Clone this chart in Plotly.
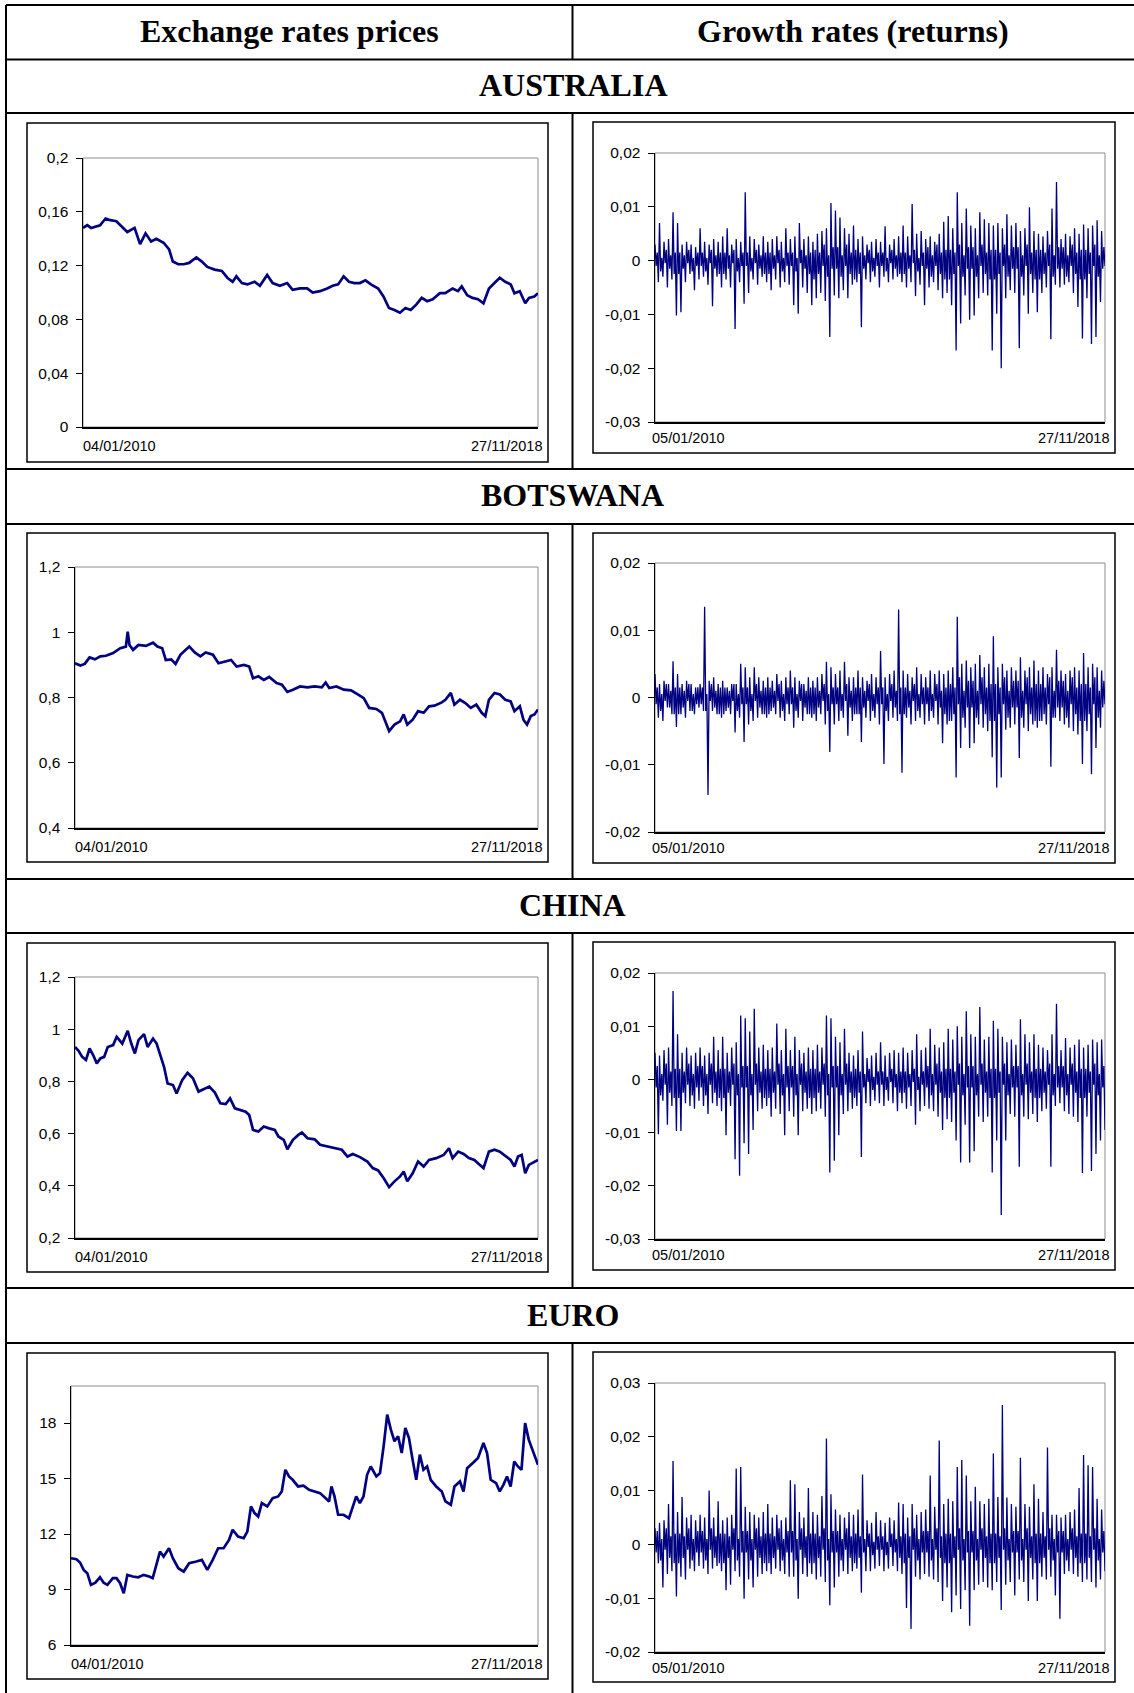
import plotly.graph_objects as go

# ------------------------------------------------------------------ data
# Prices: trading-day index (0 = 04/01/2010, 2320 = 27/11/2018) and value
aus_price_day = [0, 22, 41, 63, 87, 115, 133, 170, 198, 226, 263, 291, 319, 347, 374, 411, 439, 458, 486, 513,
                 541, 578, 606, 634, 671, 708, 736, 763, 782, 810, 838, 875, 902, 939, 967, 1004, 1041, 1069, 1106, 1143,
                 1171, 1208, 1245, 1273, 1301, 1329, 1356, 1384, 1412, 1440, 1468, 1505, 1532, 1560, 1588, 1616, 1644, 1671, 1699, 1727,
                 1755, 1783, 1820, 1847, 1885, 1912, 1931, 1959, 1986, 2014, 2042, 2070, 2098, 2125, 2153, 2181, 2200, 2227, 2255, 2274,
                 2301, 2320]
aus_price = [0.148, 0.150, 0.148, 0.149, 0.150, 0.155, 0.154, 0.153, 0.149, 0.145,
             0.148, 0.136, 0.144, 0.138, 0.140, 0.137, 0.132, 0.123, 0.121, 0.121,
             0.122, 0.126, 0.123, 0.119, 0.117, 0.116, 0.111, 0.108, 0.112, 0.107,
             0.106, 0.108, 0.105, 0.113, 0.107, 0.105, 0.107, 0.102, 0.103, 0.103,
             0.100, 0.101, 0.103, 0.105, 0.106, 0.112, 0.108, 0.107, 0.107, 0.109,
             0.106, 0.103, 0.097, 0.0885, 0.087, 0.085, 0.0885, 0.087, 0.091, 0.096,
             0.0935, 0.095, 0.0995, 0.0995, 0.103, 0.101, 0.1045, 0.098, 0.096, 0.095,
             0.092, 0.103, 0.107, 0.111, 0.108, 0.106, 0.0995, 0.101, 0.092, 0.096,
             0.097, 0.0995]

bwp_price_day = [0, 27, 49, 73, 100, 127, 155, 191, 227, 255, 264, 273, 291, 318, 355, 391, 413, 437, 455, 482,
                 504, 528, 555, 573, 600, 628, 655, 691, 719, 755, 782, 810, 846, 873, 892, 919, 946, 973, 1010, 1037,
                 1064, 1092, 1128, 1165, 1201, 1237, 1256, 1274, 1310, 1347, 1383, 1419, 1447, 1474, 1510, 1538, 1556, 1574, 1601, 1629,
                 1647, 1665, 1692, 1719, 1747, 1774, 1801, 1838, 1856, 1883, 1901, 1929, 1956, 1983, 2011, 2038, 2056, 2074, 2102, 2129,
                 2156, 2183, 2202, 2229, 2247, 2265, 2284, 2302, 2320]
bwp_price = [0.905, 0.898, 0.903, 0.923, 0.917, 0.926, 0.928, 0.936, 0.951, 0.956,
             1.002, 0.961, 0.946, 0.961, 0.958, 0.968, 0.956, 0.951, 0.915, 0.917,
             0.903, 0.931, 0.946, 0.956, 0.938, 0.926, 0.938, 0.931, 0.905, 0.910,
             0.915, 0.895, 0.900, 0.895, 0.859, 0.865, 0.854, 0.863, 0.844, 0.839,
             0.817, 0.824, 0.834, 0.831, 0.834, 0.831, 0.846, 0.829, 0.834, 0.824,
             0.822, 0.809, 0.798, 0.768, 0.765, 0.753, 0.722, 0.697, 0.717, 0.727,
             0.748, 0.717, 0.732, 0.758, 0.753, 0.773, 0.775, 0.785, 0.793, 0.814,
             0.778, 0.793, 0.783, 0.768, 0.778, 0.753, 0.743, 0.793, 0.814, 0.809,
             0.793, 0.788, 0.758, 0.773, 0.732, 0.717, 0.743, 0.748, 0.763]

cny_price_day = [0, 18, 36, 55, 73, 91, 109, 127, 146, 164, 191, 209, 237, 264, 282, 300, 318, 346, 364, 391,
                 409, 428, 446, 464, 491, 509, 537, 564, 591, 619, 646, 673, 701, 728, 755, 777, 801, 828, 855, 873,
                 892, 919, 946, 973, 1001, 1019, 1046, 1064, 1092, 1119, 1137, 1165, 1201, 1228, 1265, 1301, 1337, 1365, 1392, 1428,
                 1465, 1492, 1519, 1547, 1574, 1601, 1629, 1647, 1665, 1692, 1719, 1747, 1774, 1810, 1847, 1874, 1892, 1920, 1947, 1974,
                 2001, 2029, 2047, 2074, 2102, 2129, 2156, 2183, 2202, 2220, 2238, 2256, 2274, 2293, 2320]
cny_price = [0.932, 0.917, 0.894, 0.882, 0.926, 0.901, 0.869, 0.888, 0.894, 0.932,
             0.939, 0.971, 0.945, 0.994, 0.945, 0.907, 0.958, 0.981, 0.932, 0.964,
             0.945, 0.901, 0.856, 0.792, 0.786, 0.754, 0.805, 0.833, 0.812, 0.761,
             0.770, 0.780, 0.757, 0.716, 0.713, 0.735, 0.697, 0.690, 0.684, 0.671,
             0.614, 0.608, 0.627, 0.620, 0.614, 0.589, 0.576, 0.540, 0.576, 0.595,
             0.604, 0.582, 0.578, 0.557, 0.550, 0.544, 0.538, 0.512, 0.522, 0.510,
             0.493, 0.468, 0.459, 0.429, 0.395, 0.417, 0.436, 0.455, 0.417, 0.448,
             0.493, 0.474, 0.499, 0.506, 0.518, 0.544, 0.506, 0.531, 0.522, 0.506,
             0.499, 0.480, 0.468, 0.531, 0.538, 0.531, 0.515, 0.499, 0.474, 0.512,
             0.518, 0.448, 0.480, 0.487, 0.499]

eur_price_day = [0, 27, 45, 63, 81, 99, 121, 144, 162, 181, 208, 226, 244, 262, 280, 307, 334, 361, 388, 406,
                 424, 442, 460, 487, 506, 533, 560, 587, 623, 650, 677, 704, 731, 758, 785, 803, 830, 858, 876, 894,
                 912, 930, 948, 975, 1002, 1029, 1047, 1065, 1083, 1101, 1128, 1155, 1183, 1210, 1237, 1264, 1282, 1294, 1309, 1327,
                 1354, 1381, 1399, 1417, 1435, 1453, 1471, 1489, 1517, 1535, 1553, 1571, 1589, 1607, 1625, 1643, 1661, 1679, 1697, 1715,
                 1733, 1751, 1769, 1787, 1814, 1842, 1860, 1887, 1905, 1932, 1950, 1968, 1995, 2022, 2049, 2067, 2085, 2112, 2130, 2148,
                 2166, 2184, 2202, 2220, 2238, 2256, 2274, 2292, 2320]
eur_price = [10.69, 10.64, 10.46, 10.06, 9.88, 9.25, 9.37, 9.66, 9.37, 9.25,
             9.61, 9.61, 9.34, 8.80, 9.79, 9.70, 9.66, 9.79, 9.70, 9.61,
             10.33, 11.05, 10.78, 11.23, 10.69, 10.15, 9.97, 10.42, 10.51, 10.60,
             10.06, 10.60, 11.23, 11.23, 11.68, 12.23, 11.86, 11.77, 12.13, 13.49,
             13.13, 12.95, 13.67, 13.49, 13.94, 14.03, 14.30, 15.47, 15.11, 14.93,
             14.57, 14.61, 14.39, 14.30, 14.21, 13.94, 13.76, 14.57, 14.03, 13.04,
             13.04, 12.86, 13.40, 14.03, 13.67, 14.03, 15.20, 15.65, 15.11, 15.29,
             16.74, 18.45, 17.64, 17.01, 17.28, 16.38, 17.73, 17.19, 16.02, 14.93,
             16.29, 15.47, 15.65, 14.93, 14.57, 14.30, 13.76, 13.58, 14.57, 14.84,
             14.30, 15.56, 15.83, 16.11, 16.92, 16.38, 14.93, 14.75, 14.30, 14.66,
             15.11, 14.57, 15.92, 15.65, 15.47, 18.00, 17.10, 16.56, 15.74]

# Returns: successive highs / lows of the dense return band, read left to right
aus_returns = [
    0.0030, -0.0010, 0.0015, -0.0040, 0.0070, -0.0020, 0.0005, -0.0030, 0.0035, -0.0005, 0.0020, -0.0050, 0.0040, -0.0015, 0.0010, -0.0035, 0.0090, -0.0025, 0.0015, -0.0102,
    0.0070, -0.0025, 0.0015, -0.0096, 0.0030, -0.0015, 0.0010, -0.0040, 0.0035, -0.0005, 0.0020, -0.0025, 0.0030, -0.0020, 0.0005, -0.0055, 0.0025, -0.0010, 0.0015, -0.0035,
    0.0060, -0.0010, 0.0015, -0.0030, 0.0035, -0.0020, 0.0005, -0.0045, 0.0030, -0.0005, 0.0020, -0.0085, 0.0040, -0.0015, 0.0010, -0.0030, 0.0035, -0.0025, 0.0015, -0.0050,
    0.0045, -0.0025, 0.0015, -0.0035, 0.0060, -0.0015, 0.0010, -0.0050, 0.0030, -0.0005, 0.0020, -0.0127, 0.0040, -0.0020, 0.0005, -0.0040, 0.0035, -0.0010, 0.0015, -0.0080,
    0.0127, -0.0010, 0.0015, -0.0060, 0.0045, -0.0020, 0.0005, -0.0035, 0.0040, -0.0005, 0.0020, -0.0045, 0.0030, -0.0015, 0.0010, -0.0030, 0.0045, -0.0025, 0.0015, -0.0040,
    0.0035, -0.0025, 0.0015, -0.0055, 0.0040, -0.0015, 0.0010, -0.0035, 0.0045, -0.0005, 0.0020, -0.0050, 0.0035, -0.0020, 0.0005, -0.0040, 0.0060, -0.0010, 0.0015, -0.0045,
    0.0040, -0.0010, 0.0015, -0.0083, 0.0045, -0.0020, 0.0005, -0.0099, 0.0070, -0.0005, 0.0020, -0.0050, 0.0040, -0.0015, 0.0010, -0.0060, 0.0045, -0.0025, 0.0015, -0.0083,
    0.0035, -0.0035, 0.0020, -0.0070, 0.0050, -0.0025, 0.0015, -0.0060, 0.0055, -0.0010, 0.0030, -0.0075, 0.0060, -0.0030, 0.0010, -0.0142, 0.0107, -0.0015, 0.0025, -0.0065,
    0.0093, -0.0015, 0.0025, -0.0070, 0.0080, -0.0030, 0.0010, -0.0055, 0.0060, -0.0010, 0.0030, -0.0070, 0.0050, -0.0025, 0.0015, -0.0045, 0.0065, -0.0035, 0.0020, -0.0040,
    0.0040, -0.0025, 0.0015, -0.0124, 0.0045, -0.0015, 0.0010, -0.0035, 0.0030, -0.0005, 0.0020, -0.0040, 0.0035, -0.0020, 0.0005, -0.0030, 0.0040, -0.0010, 0.0015, -0.0050,
    0.0035, -0.0010, 0.0015, -0.0030, 0.0064, -0.0020, 0.0005, -0.0040, 0.0030, -0.0005, 0.0020, -0.0035, 0.0040, -0.0015, 0.0010, -0.0030, 0.0045, -0.0025, 0.0015, -0.0040,
    0.0065, -0.0025, 0.0015, -0.0050, 0.0045, -0.0015, 0.0010, -0.0040, 0.0105, -0.0005, 0.0020, -0.0066, 0.0050, -0.0020, 0.0005, -0.0045, 0.0055, -0.0010, 0.0015, -0.0083,
    0.0040, -0.0015, 0.0025, -0.0050, 0.0045, -0.0030, 0.0010, -0.0040, 0.0035, -0.0010, 0.0030, -0.0055, 0.0050, -0.0025, 0.0015, -0.0070, 0.0072, -0.0035, 0.0020, -0.0060,
    0.0083, -0.0035, 0.0020, -0.0083, 0.0060, -0.0025, 0.0015, -0.0167, 0.0127, -0.0010, 0.0030, -0.0117, 0.0070, -0.0030, 0.0010, -0.0065, 0.0097, -0.0015, 0.0025, -0.0110,
    0.0065, -0.0015, 0.0025, -0.0102, 0.0060, -0.0030, 0.0010, -0.0070, 0.0090, -0.0010, 0.0030, -0.0060, 0.0077, -0.0025, 0.0015, -0.0065, 0.0070, -0.0035, 0.0020, -0.0167,
    0.0065, -0.0035, 0.0020, -0.0099, 0.0070, -0.0025, 0.0015, -0.0200, 0.0060, -0.0010, 0.0030, -0.0070, 0.0086, -0.0030, 0.0010, -0.0055, 0.0065, -0.0015, 0.0025, -0.0060,
    0.0070, -0.0015, 0.0025, -0.0163, 0.0055, -0.0030, 0.0010, -0.0065, 0.0060, -0.0010, 0.0030, -0.0099, 0.0099, -0.0025, 0.0015, -0.0060, 0.0055, -0.0035, 0.0020, -0.0096,
    0.0050, -0.0035, 0.0020, -0.0060, 0.0045, -0.0025, 0.0015, -0.0050, 0.0055, -0.0010, 0.0030, -0.0146, 0.0097, -0.0030, 0.0010, -0.0045, 0.0146, -0.0015, 0.0025, -0.0050,
    0.0040, -0.0015, 0.0025, -0.0045, 0.0050, -0.0030, 0.0010, -0.0040, 0.0045, -0.0010, 0.0030, -0.0060, 0.0060, -0.0025, 0.0015, -0.0086, 0.0050, -0.0035, 0.0020, -0.0145,
    0.0067, -0.0035, 0.0020, -0.0070, 0.0060, -0.0025, 0.0015, -0.0155, 0.0065, -0.0010, 0.0030, -0.0142, 0.0075, -0.0030, 0.0010, -0.0077, 0.0055, -0.0015, 0.0025, -0.0010]

bwp_returns = [
    0.0035, -0.0010, 0.0015, -0.0030, 0.0020, -0.0020, 0.0005, -0.0035, 0.0025, -0.0005, 0.0020, -0.0015, 0.0020, -0.0015, 0.0010, -0.0025, 0.0054, -0.0025, 0.0015, -0.0044,
    0.0035, -0.0025, 0.0015, -0.0025, 0.0020, -0.0015, 0.0010, -0.0030, 0.0025, -0.0005, 0.0020, -0.0020, 0.0020, -0.0020, 0.0005, -0.0025, 0.0015, -0.0010, 0.0015, -0.0015,
    0.0020, -0.0010, 0.0015, -0.0020, 0.0135, -0.0020, 0.0005, -0.0145, 0.0025, -0.0005, 0.0020, -0.0020, 0.0030, -0.0015, 0.0010, -0.0025, 0.0020, -0.0025, 0.0015, -0.0030,
    0.0025, -0.0025, 0.0015, -0.0020, 0.0015, -0.0015, 0.0010, -0.0025, 0.0020, -0.0005, 0.0020, -0.0052, 0.0020, -0.0020, 0.0005, -0.0030, 0.0050, -0.0010, 0.0015, -0.0066,
    0.0045, -0.0010, 0.0015, -0.0040, 0.0030, -0.0020, 0.0005, -0.0035, 0.0045, -0.0005, 0.0020, -0.0030, 0.0030, -0.0015, 0.0010, -0.0025, 0.0025, -0.0025, 0.0015, -0.0030,
    0.0030, -0.0025, 0.0015, -0.0020, 0.0025, -0.0015, 0.0010, -0.0025, 0.0035, -0.0005, 0.0020, -0.0030, 0.0025, -0.0020, 0.0005, -0.0035, 0.0030, -0.0010, 0.0015, -0.0025,
    0.0040, -0.0010, 0.0015, -0.0045, 0.0030, -0.0020, 0.0005, -0.0030, 0.0025, -0.0005, 0.0020, -0.0035, 0.0020, -0.0015, 0.0010, -0.0025, 0.0030, -0.0025, 0.0015, -0.0030,
    0.0025, -0.0025, 0.0015, -0.0035, 0.0030, -0.0015, 0.0010, -0.0025, 0.0035, -0.0005, 0.0020, -0.0040, 0.0053, -0.0020, 0.0005, -0.0081, 0.0045, -0.0010, 0.0015, -0.0040,
    0.0035, -0.0010, 0.0015, -0.0035, 0.0040, -0.0020, 0.0005, -0.0030, 0.0053, -0.0005, 0.0020, -0.0057, 0.0030, -0.0015, 0.0010, -0.0035, 0.0030, -0.0025, 0.0015, -0.0025,
    0.0040, -0.0025, 0.0015, -0.0066, 0.0030, -0.0015, 0.0010, -0.0030, 0.0025, -0.0005, 0.0020, -0.0035, 0.0035, -0.0020, 0.0005, -0.0030, 0.0030, -0.0010, 0.0015, -0.0040,
    0.0069, -0.0010, 0.0015, -0.0099, 0.0030, -0.0020, 0.0005, -0.0035, 0.0035, -0.0005, 0.0020, -0.0030, 0.0040, -0.0015, 0.0010, -0.0035, 0.0131, -0.0025, 0.0015, -0.0112,
    0.0040, -0.0025, 0.0015, -0.0030, 0.0035, -0.0015, 0.0010, -0.0040, 0.0030, -0.0005, 0.0020, -0.0035, 0.0045, -0.0020, 0.0005, -0.0030, 0.0035, -0.0010, 0.0015, -0.0040,
    0.0030, -0.0010, 0.0015, -0.0035, 0.0040, -0.0020, 0.0005, -0.0030, 0.0035, -0.0005, 0.0020, -0.0040, 0.0040, -0.0015, 0.0010, -0.0068, 0.0035, -0.0025, 0.0015, -0.0040,
    0.0040, -0.0035, 0.0020, -0.0035, 0.0045, -0.0025, 0.0015, -0.0119, 0.0120, -0.0010, 0.0030, -0.0075, 0.0050, -0.0030, 0.0010, -0.0045, 0.0055, -0.0015, 0.0025, -0.0075,
    0.0045, -0.0015, 0.0025, -0.0068, 0.0050, -0.0030, 0.0010, -0.0040, 0.0063, -0.0010, 0.0030, -0.0045, 0.0045, -0.0025, 0.0015, -0.0050, 0.0050, -0.0035, 0.0020, -0.0089,
    0.0091, -0.0035, 0.0020, -0.0134, 0.0045, -0.0025, 0.0015, -0.0119, 0.0050, -0.0010, 0.0030, -0.0048, 0.0040, -0.0030, 0.0010, -0.0045, 0.0045, -0.0015, 0.0025, -0.0040,
    0.0040, -0.0015, 0.0025, -0.0090, 0.0060, -0.0030, 0.0010, -0.0045, 0.0040, -0.0010, 0.0030, -0.0050, 0.0045, -0.0025, 0.0015, -0.0040, 0.0055, -0.0035, 0.0020, -0.0045,
    0.0040, -0.0035, 0.0020, -0.0035, 0.0045, -0.0025, 0.0015, -0.0040, 0.0035, -0.0010, 0.0030, -0.0103, 0.0045, -0.0030, 0.0010, -0.0030, 0.0071, -0.0015, 0.0025, -0.0035,
    0.0040, -0.0015, 0.0025, -0.0040, 0.0035, -0.0030, 0.0010, -0.0045, 0.0040, -0.0010, 0.0030, -0.0050, 0.0045, -0.0025, 0.0015, -0.0055, 0.0040, -0.0035, 0.0020, -0.0099,
    0.0066, -0.0035, 0.0020, -0.0050, 0.0045, -0.0025, 0.0015, -0.0114, 0.0050, -0.0010, 0.0030, -0.0075, 0.0045, -0.0030, 0.0010, -0.0045, 0.0040, -0.0015, 0.0025, -0.0010]

cny_returns = [
    0.0050, -0.0015, 0.0025, -0.0103, 0.0045, -0.0030, 0.0010, -0.0040, 0.0055, -0.0010, 0.0030, -0.0085, 0.0060, -0.0025, 0.0015, -0.0050, 0.0166, -0.0035, 0.0020, -0.0097,
    0.0085, -0.0035, 0.0020, -0.0097, 0.0050, -0.0025, 0.0015, -0.0045, 0.0060, -0.0010, 0.0030, -0.0050, 0.0045, -0.0030, 0.0010, -0.0055, 0.0050, -0.0015, 0.0025, -0.0040,
    0.0060, -0.0015, 0.0025, -0.0050, 0.0045, -0.0030, 0.0010, -0.0065, 0.0050, -0.0010, 0.0030, -0.0045, 0.0080, -0.0025, 0.0015, -0.0050, 0.0055, -0.0035, 0.0020, -0.0060,
    0.0080, -0.0035, 0.0020, -0.0105, 0.0050, -0.0025, 0.0015, -0.0050, 0.0060, -0.0010, 0.0030, -0.0150, 0.0070, -0.0030, 0.0010, -0.0181, 0.0120, -0.0015, 0.0025, -0.0120,
    0.0115, -0.0015, 0.0025, -0.0140, 0.0090, -0.0030, 0.0010, -0.0095, 0.0133, -0.0010, 0.0030, -0.0060, 0.0060, -0.0025, 0.0015, -0.0055, 0.0065, -0.0035, 0.0020, -0.0050,
    0.0055, -0.0035, 0.0020, -0.0070, 0.0060, -0.0025, 0.0015, -0.0055, 0.0105, -0.0010, 0.0030, -0.0065, 0.0055, -0.0030, 0.0010, -0.0105, 0.0095, -0.0015, 0.0025, -0.0060,
    0.0055, -0.0015, 0.0025, -0.0070, 0.0080, -0.0030, 0.0010, -0.0105, 0.0055, -0.0010, 0.0030, -0.0060, 0.0050, -0.0025, 0.0015, -0.0055, 0.0060, -0.0035, 0.0020, -0.0065,
    0.0055, -0.0035, 0.0020, -0.0060, 0.0065, -0.0025, 0.0015, -0.0055, 0.0060, -0.0010, 0.0030, -0.0070, 0.0120, -0.0030, 0.0010, -0.0175, 0.0115, -0.0015, 0.0025, -0.0153,
    0.0080, -0.0015, 0.0025, -0.0105, 0.0070, -0.0030, 0.0010, -0.0065, 0.0095, -0.0010, 0.0030, -0.0060, 0.0050, -0.0025, 0.0015, -0.0055, 0.0045, -0.0035, 0.0020, -0.0050,
    0.0055, -0.0025, 0.0015, -0.0146, 0.0090, -0.0015, 0.0010, -0.0045, 0.0040, -0.0005, 0.0020, -0.0050, 0.0045, -0.0020, 0.0005, -0.0040, 0.0050, -0.0010, 0.0015, -0.0045,
    0.0070, -0.0010, 0.0015, -0.0050, 0.0045, -0.0020, 0.0005, -0.0040, 0.0050, -0.0005, 0.0020, -0.0045, 0.0055, -0.0015, 0.0010, -0.0060, 0.0050, -0.0025, 0.0015, -0.0045,
    0.0060, -0.0025, 0.0015, -0.0055, 0.0050, -0.0015, 0.0010, -0.0050, 0.0055, -0.0005, 0.0020, -0.0085, 0.0085, -0.0020, 0.0005, -0.0060, 0.0055, -0.0010, 0.0015, -0.0050,
    0.0060, -0.0015, 0.0025, -0.0055, 0.0095, -0.0030, 0.0010, -0.0060, 0.0065, -0.0010, 0.0030, -0.0070, 0.0060, -0.0025, 0.0015, -0.0095, 0.0070, -0.0035, 0.0020, -0.0075,
    0.0095, -0.0035, 0.0020, -0.0080, 0.0075, -0.0025, 0.0015, -0.0115, 0.0100, -0.0010, 0.0030, -0.0156, 0.0080, -0.0030, 0.0010, -0.0085, 0.0128, -0.0015, 0.0025, -0.0156,
    0.0085, -0.0015, 0.0025, -0.0135, 0.0080, -0.0030, 0.0010, -0.0070, 0.0136, -0.0010, 0.0030, -0.0080, 0.0075, -0.0025, 0.0015, -0.0070, 0.0080, -0.0035, 0.0020, -0.0175,
    0.0110, -0.0035, 0.0020, -0.0115, 0.0095, -0.0025, 0.0015, -0.0255, 0.0080, -0.0010, 0.0030, -0.0115, 0.0070, -0.0030, 0.0010, -0.0065, 0.0075, -0.0015, 0.0025, -0.0070,
    0.0065, -0.0015, 0.0025, -0.0164, 0.0113, -0.0030, 0.0010, -0.0070, 0.0085, -0.0010, 0.0030, -0.0075, 0.0070, -0.0025, 0.0015, -0.0065, 0.0085, -0.0035, 0.0020, -0.0080,
    0.0065, -0.0035, 0.0020, -0.0060, 0.0060, -0.0025, 0.0015, -0.0055, 0.0055, -0.0010, 0.0030, -0.0164, 0.0085, -0.0030, 0.0010, -0.0050, 0.0142, -0.0015, 0.0025, -0.0045,
    0.0055, -0.0015, 0.0025, -0.0060, 0.0078, -0.0030, 0.0010, -0.0065, 0.0060, -0.0010, 0.0030, -0.0070, 0.0065, -0.0025, 0.0015, -0.0080, 0.0075, -0.0035, 0.0020, -0.0176,
    0.0060, -0.0035, 0.0020, -0.0070, 0.0065, -0.0025, 0.0015, -0.0172, 0.0075, -0.0010, 0.0030, -0.0140, 0.0070, -0.0030, 0.0010, -0.0115, 0.0075, -0.0015, 0.0025, -0.0095]

eur_returns = [
    0.0030, -0.0015, 0.0025, -0.0035, 0.0040, -0.0030, 0.0010, -0.0080, 0.0045, -0.0010, 0.0030, -0.0055, 0.0075, -0.0025, 0.0015, -0.0050, 0.0155, -0.0035, 0.0020, -0.0097,
    0.0060, -0.0035, 0.0020, -0.0060, 0.0088, -0.0025, 0.0015, -0.0065, 0.0050, -0.0010, 0.0030, -0.0045, 0.0055, -0.0030, 0.0010, -0.0050, 0.0045, -0.0015, 0.0025, -0.0040,
    0.0055, -0.0015, 0.0025, -0.0045, 0.0050, -0.0030, 0.0010, -0.0055, 0.0100, -0.0010, 0.0030, -0.0045, 0.0050, -0.0025, 0.0015, -0.0040, 0.0080, -0.0035, 0.0020, -0.0050,
    0.0045, -0.0035, 0.0020, -0.0085, 0.0050, -0.0025, 0.0015, -0.0075, 0.0055, -0.0010, 0.0030, -0.0050, 0.0141, -0.0030, 0.0010, -0.0060, 0.0144, -0.0015, 0.0025, -0.0101,
    0.0070, -0.0015, 0.0025, -0.0065, 0.0060, -0.0030, 0.0010, -0.0080, 0.0055, -0.0010, 0.0030, -0.0060, 0.0050, -0.0025, 0.0015, -0.0055, 0.0060, -0.0035, 0.0020, -0.0050,
    0.0075, -0.0035, 0.0020, -0.0055, 0.0050, -0.0025, 0.0015, -0.0045, 0.0055, -0.0010, 0.0030, -0.0050, 0.0045, -0.0030, 0.0010, -0.0055, 0.0050, -0.0015, 0.0025, -0.0060,
    0.0119, -0.0015, 0.0025, -0.0060, 0.0112, -0.0030, 0.0010, -0.0101, 0.0060, -0.0010, 0.0030, -0.0055, 0.0050, -0.0025, 0.0015, -0.0060, 0.0105, -0.0035, 0.0020, -0.0055,
    0.0060, -0.0035, 0.0020, -0.0065, 0.0055, -0.0025, 0.0015, -0.0060, 0.0090, -0.0010, 0.0030, -0.0070, 0.0197, -0.0030, 0.0010, -0.0113, 0.0093, -0.0015, 0.0025, -0.0080,
    0.0065, -0.0015, 0.0025, -0.0060, 0.0055, -0.0030, 0.0010, -0.0050, 0.0050, -0.0010, 0.0030, -0.0055, 0.0060, -0.0025, 0.0015, -0.0050, 0.0055, -0.0035, 0.0020, -0.0045,
    0.0065, -0.0025, 0.0015, -0.0090, 0.0130, -0.0015, 0.0010, -0.0050, 0.0045, -0.0005, 0.0020, -0.0050, 0.0040, -0.0020, 0.0005, -0.0045, 0.0060, -0.0010, 0.0015, -0.0040,
    0.0045, -0.0010, 0.0015, -0.0050, 0.0040, -0.0020, 0.0005, -0.0045, 0.0050, -0.0005, 0.0020, -0.0040, 0.0045, -0.0015, 0.0010, -0.0050, 0.0078, -0.0025, 0.0015, -0.0055,
    0.0075, -0.0035, 0.0020, -0.0118, 0.0050, -0.0025, 0.0015, -0.0157, 0.0075, -0.0010, 0.0030, -0.0060, 0.0055, -0.0030, 0.0010, -0.0065, 0.0060, -0.0015, 0.0025, -0.0055,
    0.0065, -0.0015, 0.0025, -0.0060, 0.0128, -0.0030, 0.0010, -0.0065, 0.0070, -0.0010, 0.0030, -0.0070, 0.0193, -0.0025, 0.0015, -0.0105, 0.0075, -0.0035, 0.0020, -0.0080,
    0.0085, -0.0035, 0.0020, -0.0126, 0.0080, -0.0025, 0.0015, -0.0095, 0.0144, -0.0010, 0.0030, -0.0120, 0.0157, -0.0030, 0.0010, -0.0085, 0.0128, -0.0015, 0.0025, -0.0151,
    0.0080, -0.0015, 0.0025, -0.0085, 0.0107, -0.0030, 0.0010, -0.0075, 0.0080, -0.0010, 0.0030, -0.0070, 0.0075, -0.0025, 0.0015, -0.0080, 0.0085, -0.0035, 0.0020, -0.0085,
    0.0169, -0.0035, 0.0020, -0.0070, 0.0088, -0.0025, 0.0015, -0.0122, 0.0259, -0.0010, 0.0030, -0.0075, 0.0087, -0.0030, 0.0010, -0.0070, 0.0075, -0.0015, 0.0025, -0.0095,
    0.0070, -0.0015, 0.0025, -0.0065, 0.0161, -0.0030, 0.0010, -0.0070, 0.0075, -0.0010, 0.0030, -0.0105, 0.0070, -0.0025, 0.0015, -0.0065, 0.0112, -0.0035, 0.0020, -0.0105,
    0.0085, -0.0035, 0.0020, -0.0060, 0.0060, -0.0025, 0.0015, -0.0065, 0.0180, -0.0010, 0.0030, -0.0060, 0.0055, -0.0030, 0.0010, -0.0095, 0.0055, -0.0015, 0.0025, -0.0138,
    0.0050, -0.0015, 0.0025, -0.0055, 0.0055, -0.0030, 0.0010, -0.0050, 0.0060, -0.0010, 0.0030, -0.0055, 0.0065, -0.0025, 0.0015, -0.0060, 0.0105, -0.0035, 0.0020, -0.0070,
    0.0166, -0.0035, 0.0020, -0.0065, 0.0147, -0.0025, 0.0015, -0.0070, 0.0144, -0.0010, 0.0030, -0.0080, 0.0085, -0.0030, 0.0010, -0.0065, 0.0065, -0.0015, 0.0025, -0.0050]

countries = ["AUSTRALIA", "BOTSWANA", "CHINA", "EURO"]
column_titles = ["Exchange rates prices", "Growth rates (returns)"]
price_first_date = "04/01/2010"
return_first_date = "05/01/2010"
last_date = "27/11/2018"
n_days = 2320

price_days = [aus_price_day, bwp_price_day, cny_price_day, eur_price_day]
price_values = [aus_price, bwp_price, cny_price, eur_price]
return_values = [aus_returns, bwp_returns, cny_returns, eur_returns]

price_ranges = [[0, 0.2], [0.4, 1.2], [0.2, 1.2], [6, 20]]
price_tickvals = [[0, 0.04, 0.08, 0.12, 0.16, 0.2], [0.4, 0.6, 0.8, 1, 1.2],
                  [0.2, 0.4, 0.6, 0.8, 1, 1.2], [6, 9, 12, 15, 18]]
price_ticktext = [["0", "0,04", "0,08", "0,12", "0,16", "0,2"], ["0,4", "0,6", "0,8", "1", "1,2"],
                  ["0,2", "0,4", "0,6", "0,8", "1", "1,2"], ["6", "9", "12", "15", "18"]]
return_ranges = [[-0.03, 0.02], [-0.02, 0.02], [-0.03, 0.02], [-0.02, 0.03]]
return_tickvals = [[-0.03, -0.02, -0.01, 0, 0.01, 0.02], [-0.02, -0.01, 0, 0.01, 0.02],
                   [-0.03, -0.02, -0.01, 0, 0.01, 0.02], [-0.02, -0.01, 0, 0.01, 0.02, 0.03]]
return_ticktext = [["-0,03", "-0,02", "-0,01", "0", "0,01", "0,02"], ["-0,02", "-0,01", "0", "0,01", "0,02"],
                   ["-0,03", "-0,02", "-0,01", "0", "0,01", "0,02"], ["-0,02", "-0,01", "0", "0,01", "0,02", "0,03"]]

# ------------------------------------------------------------------ layout geometry (pixels)
W, H = 1134, 1693
TABLE_LEFT, TABLE_MID, TABLE_RIGHT = 6, 572.5, 1134
h_lines = [5, 59.5, 113, 469, 524, 879, 933, 1288, 1343]
chart_rows = [(113, 469), (524, 879), (933, 1288), (1343, 1693)]
title_rows = [(59.5, 113), (469, 524), (879, 933), (1288, 1343)]
plot_boxes_left = [(83, 538, 158, 427), (75, 538, 567, 828), (75, 538, 977, 1238), (71, 538, 1386, 1645)]
plot_boxes_right = [(655, 1105, 153, 422), (655, 1105, 563, 832), (655, 1105, 973, 1239), (655, 1105, 1383, 1652)]
frames_left = [(27, 548, 123, 462), (27, 548, 533, 862), (27, 548, 943, 1272), (27, 548, 1353, 1679)]
frames_right = [(593, 1115, 122, 453), (593, 1115, 533, 863), (593, 1115, 942, 1270), (593, 1115, 1352, 1682)]
date_gap_left, date_gap_right = 19, 16
first_label_shift_left, first_label_shift_right = -2, -5

NAVY = "#000080"
SANS = "Liberation Sans, Arial, sans-serif"
SERIF = "Liberation Serif, Times New Roman, serif"


def fx(p):
    return p / W


def fy(p):
    return 1 - p / H


fig = go.Figure()
layout = dict(autosize=True, margin=dict(l=0, r=0, t=0, b=0, autoexpand=False),
              paper_bgcolor="white", plot_bgcolor="white", showlegend=False)
shapes, annotations = [], []


def add_panel(k, box, xrange_, yrange, tickvals, ticktext, x, y, lw, first_label, gap, first_shift):
    xa = "xaxis" if k == 1 else f"xaxis{k}"
    ya = "yaxis" if k == 1 else f"yaxis{k}"
    xr = "x" if k == 1 else f"x{k}"
    yr = "y" if k == 1 else f"y{k}"
    x0, x1, y0, y1 = box
    layout[xa] = dict(domain=[fx(x0), fx(x1)], range=xrange_, anchor=yr, showticklabels=False,
                      ticks="", showgrid=False, zeroline=False, showline=True, linecolor="black",
                      linewidth=1.5, fixedrange=True)
    layout[ya] = dict(domain=[fy(y1), fy(y0)], range=yrange, anchor=xr, tickvals=tickvals,
                      ticktext=ticktext, ticks="outside", ticklen=6, tickwidth=1, tickcolor="black",
                      showgrid=False, zeroline=False, showline=True, linecolor="black", linewidth=1.5,
                      tickfont=dict(family=SANS, size=15.5, color="black"), ticklabelstandoff=4,
                      fixedrange=True)
    fig.add_trace(go.Scatter(x=x, y=y, mode="lines", line=dict(color=NAVY, width=lw),
                             xaxis=xr, yaxis=yr, hoverinfo="skip"))
    # grey plot-area border (top / right)
    shapes.append(dict(type="rect", xref="paper", yref="paper", x0=fx(x0), x1=fx(x1), y0=fy(y1), y1=fy(y0),
                       line=dict(color="#8c8c8c", width=1), layer="below"))
    annotations.append(dict(xref=f"{xr} domain", yref=f"{yr} domain", x=0, y=0, xanchor="left",
                            yanchor="middle", yshift=-gap, xshift=first_shift, text=first_label,
                            showarrow=False, font=dict(family=SANS, size=14.5, color="black")))
    annotations.append(dict(xref=f"{xr} domain", yref=f"{yr} domain", x=1, y=0, xanchor="right",
                            yanchor="middle", yshift=-gap, xshift=7, text=last_date, showarrow=False,
                            font=dict(family=SANS, size=14.5, color="black")))


k = 1
for i in range(4):
    add_panel(k, plot_boxes_left[i], [0, n_days], price_ranges[i], price_tickvals[i], price_ticktext[i],
              price_days[i], price_values[i], 2.7, price_first_date, date_gap_left, first_label_shift_left)
    k += 1
    add_panel(k, plot_boxes_right[i], [0, len(return_values[i]) - 1], return_ranges[i], return_tickvals[i],
              return_ticktext[i], list(range(len(return_values[i]))), return_values[i], 1.3,
              return_first_date, date_gap_right, first_label_shift_right)
    k += 1

# chart frames
for fr in frames_left + frames_right:
    x0, x1, y0, y1 = fr
    shapes.append(dict(type="rect", xref="paper", yref="paper", x0=fx(x0), x1=fx(x1), y0=fy(y1), y1=fy(y0),
                       line=dict(color="black", width=1.5), layer="below"))

# table lines
for yy in h_lines:
    shapes.append(dict(type="line", xref="paper", yref="paper", x0=fx(TABLE_LEFT), x1=fx(TABLE_RIGHT),
                       y0=fy(yy), y1=fy(yy), line=dict(color="black", width=2)))
shapes.append(dict(type="line", xref="paper", yref="paper", x0=fx(TABLE_LEFT), x1=fx(TABLE_LEFT),
                   y0=fy(h_lines[0]), y1=fy(H), line=dict(color="black", width=2)))
for (a, b) in [(h_lines[0], h_lines[1])] + chart_rows:
    shapes.append(dict(type="line", xref="paper", yref="paper", x0=fx(TABLE_MID), x1=fx(TABLE_MID),
                       y0=fy(a), y1=fy(b), line=dict(color="black", width=2)))

# header titles
hdr_y = (h_lines[0] + h_lines[1]) / 2 - 1.5
annotations.append(dict(xref="paper", yref="paper", x=fx((TABLE_LEFT + TABLE_MID) / 2), y=fy(hdr_y),
                        text=f"<b>{column_titles[0]}</b>", showarrow=False, xanchor="center", yanchor="middle",
                        font=dict(family=SERIF, size=32, color="black")))
annotations.append(dict(xref="paper", yref="paper", x=fx((TABLE_MID + TABLE_RIGHT) / 2), y=fy(hdr_y),
                        text=f"<b>{column_titles[1]}</b>", showarrow=False, xanchor="center", yanchor="middle",
                        font=dict(family=SERIF, size=32, color="black")))
for name, (a, b) in zip(countries, title_rows):
    annotations.append(dict(xref="paper", yref="paper", x=fx(TABLE_MID), y=fy((a + b) / 2 - 1),
                            text=f"<b>{name}</b>", showarrow=False, xanchor="center", yanchor="middle",
                            font=dict(family=SERIF, size=32, color="black")))

layout["shapes"] = shapes
layout["annotations"] = annotations
fig.update_layout(**layout)

fig.write_html(
    "out.html",
    config={"displayModeBar": False, "staticPlot": True},
    default_width=f"{W}px",
    default_height=f"{H}px; position:absolute; top:0px; left:0px; margin:0px",
    post_script="document.body.style.margin='0px';document.body.style.overflow='hidden';",
)
